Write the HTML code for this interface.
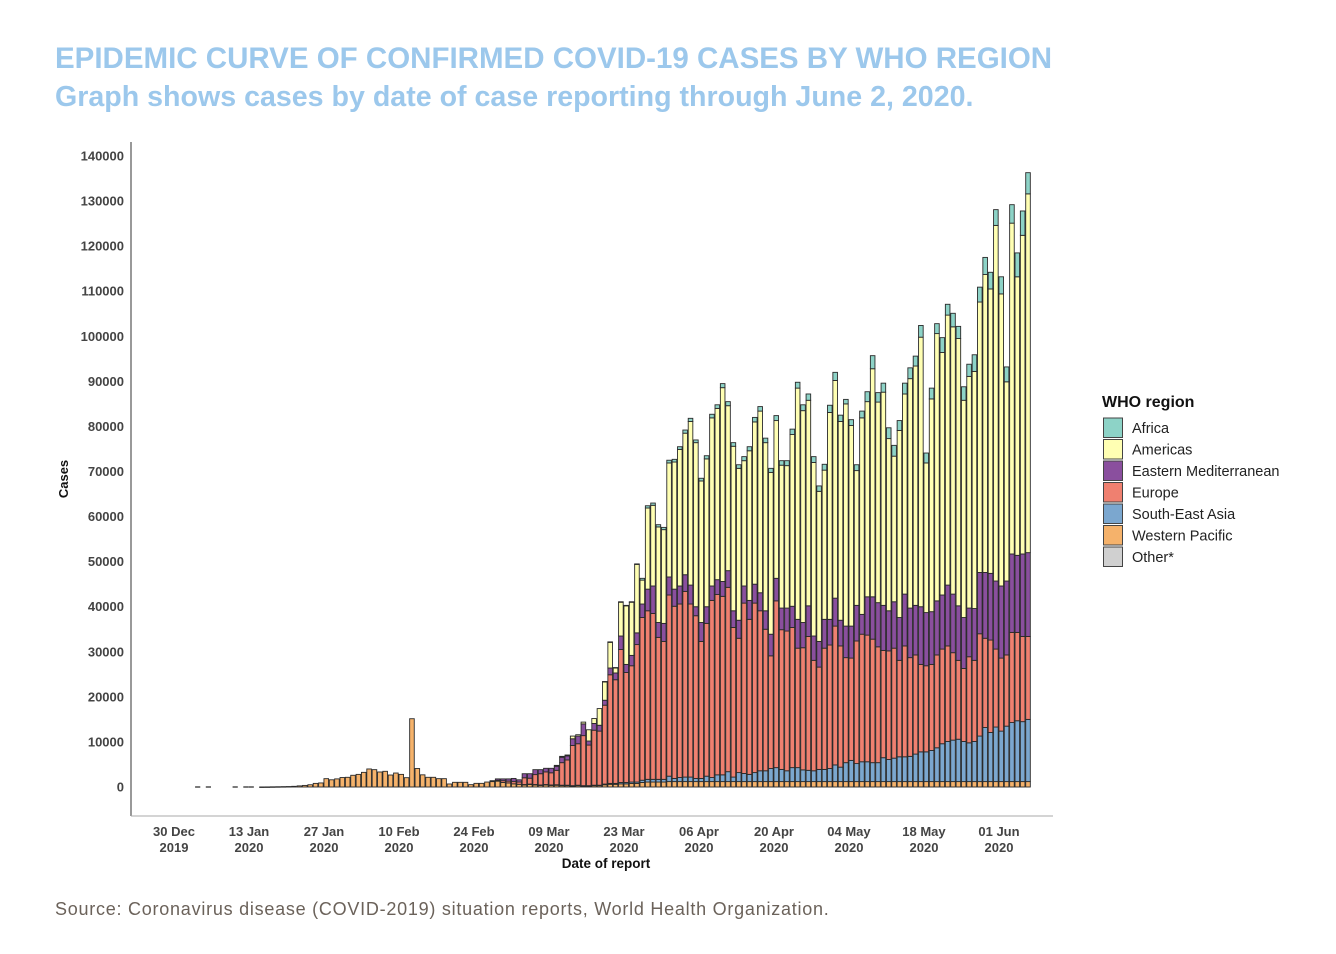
<!DOCTYPE html>
<html><head><meta charset="utf-8">
<style>
html,body{margin:0;padding:0;background:#fff;}
body{width:1336px;height:954px;overflow:hidden;font-family:"Liberation Sans",sans-serif;}
.t1{position:absolute;left:55px;top:42px;font-size:29.5px;font-weight:bold;color:#9cc8ec;white-space:nowrap;}
.t2{position:absolute;left:55px;top:81px;font-size:28.6px;font-weight:bold;color:#9cc8ec;white-space:nowrap;}
.src{position:absolute;left:55px;top:899px;font-size:18px;letter-spacing:0.75px;color:#6b625a;white-space:nowrap;}
svg{position:absolute;left:0;top:0;}
</style></head><body>
<div class="t1">EPIDEMIC CURVE OF CONFIRMED COVID-19 CASES BY WHO REGION</div>
<div class="t2">Graph shows cases by date of case reporting through June 2, 2020.</div>
<div class="src">Source: Coronavirus disease (COVID-2019) situation reports, World Health Organization.</div>
<svg id="chart" width="1336" height="954"></svg>
<script>
// values in thousands of cases, one entry per report day (bar)
const yTicks = [0,10000,20000,30000,40000,50000,60000,70000,80000,90000,100000,110000,120000,130000,140000];
const xTickLabels = [["30 Dec","2019"],["13 Jan","2020"],["27 Jan","2020"],["10 Feb","2020"],["24 Feb","2020"],["09 Mar","2020"],["23 Mar","2020"],["06 Apr","2020"],["20 Apr","2020"],["04 May","2020"],["18 May","2020"],["01 Jun","2020"]];
const seriesNames = ["Western Pacific","South-East Asia","Europe","Eastern Mediterranean","Americas","Africa"];
const legendNames = ["Africa","Americas","Eastern Mediterranean","Europe","South-East Asia","Western Pacific","Other*"];
const westernPacific = [0,null,0,null,null,null,null,0,null,0,0,null,
0.01,0.02,0.04,0.06,0.08,0.1,0.15,0.25,0.35,
0.5,0.8,0.9,1.85,1.6,1.8,2.1,2.15,2.6,2.8,3.25,4.0,3.85,3.33,3.48,2.66,3.1,2.8,2.07,15.15,4.1,2.7,2.15,
2.15,1.85,1.85,0.67,1.04,1.04,1.04,0.52,0.81,0.81,1.1,
1.2,1.3,1.0,0.9,0.7,0.6,
0.5,0.6,0.5,0.4,0.5,0.4,0.4,0.3,0.3,0.2,0.3,0.2,0.2,0.3,0.3,0.5,0.6,0.6,0.7,0.7,0.8,0.8,
1.0,1.1,1.1,1.1,1.1,
1.2,1.2,1.2,1.2,1.2,1.2,1.2,1.2,1.2,1.2,
1.2,1.2,1.2,1.2,1.2,1.2,1.2,1.2,1.2,1.2,
1.2,1.2,1.2,1.2,1.2,1.2,1.2,1.2,1.2,1.2,
1.2,1.2,1.2,1.2,1.2,1.2,1.2,1.2,1.2,1.2,
1.2,1.2,1.2,1.2,1.2,1.2,1.2,1.2,1.2,1.2,
1.2,1.2,1.2,1.2,1.2,1.2,1.2,1.2,1.2,1.2,
1.2,1.2,1.2,1.2,1.2,1.2,1.2,1.2];
const southEastAsia = [0,0,0,0,0,0,0,0,0,0,0,0,0,0,0,0,0,0,0,0,0,0,0,0,0,0,0,0,0,0,0,0,0,0,0,0,0,0,0,0,0,0,0,0,0,0,0,0,0,0,0,0,0,0,0,0,0,0,0,0,0,
0.05,0.05,0.05,0.05,0.05,0.05,0.1,0.1,0.1,0.1,0.1,0.1,0.1,0.1,0.1,0.15,0.2,0.2,0.3,0.3,0.3,0.3,
0.5,0.6,0.6,0.6,0.6,1.2,0.7,0.9,1.0,1.0,0.7,0.7,1.2,0.9,1.5,1.5,2.2,1.0,2.0,1.8,1.6,2.0,2.4,2.4,2.9,3.1,2.7,2.4,3.1,3.1,2.6,2.5,2.4,2.7,2.7,2.9,3.7,3.2,4.2,4.7,4.0,4.4,4.4,4.2,4.2,5.3,4.9,5.2,5.5,5.5,5.6,6.1,6.6,6.6,6.9,7.5,8.4,8.9,9.2,9.4,8.9,8.6,8.9,10.1,12.0,10.9,12.1,11.2,12.3,13.1,13.5,13.3,13.8];
const europe = [0,0,0,0,0,0,0,0,0,0,0,0,0,0,0,0,0,0,0,0,0,0,0,0,0,0,0,0,0,0,0,0,0,0,0,0,0,0,0,0,0,0,0,0,0,0,0,0,0,0,0,0,0,0,0,0,
0.2,0.4,0.4,0.5,0.5,
1.5,1.3,2.2,2.5,2.8,2.7,3.2,5.0,5.6,8.9,9.2,11.1,9.0,12.2,12.0,17.5,24.1,23.0,29.5,24.4,25.8,30.5,
36.1,37.4,36.8,31.5,30.6,40.2,38.2,38.5,41.2,38.4,36.1,30.4,33.9,39.3,40.0,39.6,40.9,33.2,29.8,37.8,34.4,37.6,35.5,31.4,25.0,37.0,31.0,31.0,31.1,26.5,27.1,29.7,24.5,22.7,26.9,27.4,30.8,26.9,23.3,22.7,27.2,28.3,28.1,27.4,25.7,23.8,24.1,24.4,21.4,24.6,21.9,22.0,19.4,19.1,19.1,20.6,21.0,21.2,19.4,17.5,16.2,19.1,18.0,22.7,19.8,20.5,17.3,16.2,15.8,20.0,19.6,18.9,18.4];
const easternMed = [0,0,0,0,0,0,0,0,0,0,0,0,0,0,0,0,0,0,0,0,0,0,0,0,0,0,0,0,0,0,0,0,0,0,0,0,0,0,0,0,0,0,0,0,0,0,0,0,0,0,0,0,0,0,0,
0.2,0.3,0.4,0.5,0.7,0.5,
0.9,1.0,1.1,0.9,0.8,1.0,0.9,1.2,0.9,1.5,1.7,2.6,0.9,1.5,1.3,1.1,1.5,1.5,3.0,1.8,2.3,2.6,
3.0,4.8,6.1,3.3,4.0,4.0,3.8,4.0,3.7,4.2,2.0,4.2,3.7,3.2,3.3,3.3,3.7,3.7,4.0,3.8,4.2,4.2,4.0,4.1,4.8,5.0,4.8,5.1,4.7,6.4,5.6,6.8,5.4,5.7,6.4,5.7,6.2,5.7,7.0,7.1,7.9,4.4,8.5,9.4,9.8,10.0,8.9,10.3,9.5,11.5,11.0,11.0,12.8,11.8,11.7,12.0,12.0,13.5,13.0,12.1,11.3,10.8,11.5,13.6,14.6,14.8,15.1,16.0,16.4,17.4,17.1,18.3,18.6];
const americas = [0,0,0,0,0,0,0,0,0,0,0,0,0,0,0,0,0,0,0,0,0,0,0,0,0,0,0,0,0,0,0,0,0,0,0,0,0,0,0,0,0,0,0,0,0,0,0,0,0,0,0,0,0,0,0,0,0,0,0,0,0,0,0,0,0,0,0,
0.2,0.2,0.2,0.6,0.3,0.4,2.5,1.1,3.7,4.1,5.7,1.1,7.5,13.0,11.8,15.2,
5.3,18.0,17.9,21.2,20.8,25.3,28.2,30.3,31.4,36.3,36.4,31.4,32.8,37.3,38.0,43.0,36.6,36.5,33.7,27.8,33.2,36.0,40.3,37.3,35.9,35.0,31.7,31.6,38.1,51.3,47.0,45.6,38.5,33.3,33.1,45.9,48.3,44.1,49.3,44.5,29.9,43.6,43.3,50.6,44.5,47.3,38.2,32.3,41.5,44.4,50.9,53.1,59.8,33.2,47.2,59.3,53.8,59.9,59.3,59.3,48.2,51.4,52.6,60.0,66.1,63.1,78.9,64.8,44.2,73.4,61.8,70.7,79.6];
const africa = [0,0,0,0,0,0,0,0,0,0,0,0,0,0,0,0,0,0,0,0,0,0,0,0,0,0,0,0,0,0,0,0,0,0,0,0,0,0,0,0,0,0,0,0,0,0,0,0,0,0,0,0,0,0,0,0,0,0,0,0,0,0,0,0,0,0,0,0,0,0,0,0,0,0,0,0,
0.05,0.1,0.1,0.1,0.1,0.1,0.1,
0.4,0.5,0.5,0.5,0.5,0.6,0.6,0.6,0.7,0.7,0.6,0.6,0.7,0.8,0.8,0.9,0.9,0.8,0.8,0.9,0.9,1.0,1.0,1.0,0.9,1.1,1.0,1.1,1.2,1.3,1.3,1.4,1.3,1.2,1.3,1.6,1.8,1.4,1.0,1.3,1.3,1.5,2.2,2.9,2.1,2.0,2.4,2.4,2.2,2.4,2.4,2.2,2.6,2.2,2.4,2.2,3.3,2.4,3.0,2.7,3.0,2.7,3.7,3.3,3.8,3.7,3.5,3.8,3.3,4.1,5.3,5.4,4.7];

const NS = "http://www.w3.org/2000/svg";
const svg = document.getElementById('chart');
const colors = ["#f5b26b","#7ba7cf","#ef8070","#8a4f9e","#ffffb3","#8dd3c7"];
const legendColors = ["#8dd3c7","#ffffb3","#8a4f9e","#ef8070","#7ba7cf","#f5b26b","#d0d0d0"];
const series = [westernPacific,southEastAsia,europe,easternMed,americas,africa];
const plotL = 131, plotR = 1053, plotB = 816;
const y0 = 787, yPerCase = (787-156)/140000;
function yScale(v){ return y0 - v*yPerCase; }
const dayPx = 5.357, day0X = 174;
function xDay(d){ return day0X + d*dayPx; }
const barOffsetDays = 4.42;
function xBar(i){ return xDay(i + barOffsetDays); }
const barW = 4.6;
function mk(tag, attrs, parent){ const e=document.createElementNS(NS,tag); for(const k in attrs) e.setAttribute(k,attrs[k]); (parent||svg).appendChild(e); return e; }

const ax = mk('line',{x1:plotL,y1:142,x2:plotL,y2:plotB,stroke:'#333','stroke-width':1});


const bx = mk('line',{x1:plotL,y1:plotB,x2:plotR,y2:plotB,stroke:'#aaa','stroke-width':1});



yTicks.forEach(v=>{
  const t = mk('text',{x:124,y:yScale(v)+4.5,'text-anchor':'end','font-size':13,'font-weight':'bold',fill:'#444','font-family':'Liberation Sans, sans-serif'});
  t.textContent = v;
  
  
});
xTickLabels.forEach((lab,j)=>{
  const x = xDay(j*14);
  const t = mk('text',{x:x,y:836,'text-anchor':'middle','font-size':13,'font-weight':'bold',fill:'#444','font-family':'Liberation Sans, sans-serif'});
  t.textContent = lab[0];
  
  
  const t2 = mk('text',{x:x,y:852,'text-anchor':'middle','font-size':13,'font-weight':'bold',fill:'#444','font-family':'Liberation Sans, sans-serif'});
  t2.textContent = lab[1];
  
  
});
const xt = mk('text',{x:606,y:868,'text-anchor':'middle','font-size':13.5,'font-weight':'bold',fill:'#111','font-family':'Liberation Sans, sans-serif'});
xt.textContent = 'Date of report';


const yt = mk('text',{x:0,y:0,'text-anchor':'middle','font-size':13,'font-weight':'bold',fill:'#111','font-family':'Liberation Sans, sans-serif',transform:'translate(68,479) rotate(-90)'});
yt.textContent = 'Cases';



const gBars = mk('g',{});


for(let i=0;i<westernPacific.length;i++){
  if(westernPacific[i]===null) continue;
  const cx = xBar(i);
  let cum = 0;
  let total = 0;
  series.forEach(s=>{ total += (s[i]||0); });
  if(total===0){
    const d = mk('line',{x1:cx-barW/2-0.3,x2:cx+barW/2+0.3,y1:y0,y2:y0,stroke:'#333','stroke-width':1.3},gBars);
    
    
    continue;
  }
  series.forEach((s,si)=>{
    const v = (s[i]||0)*1000;
    if(v<=0) return;
    const yTop = yScale(cum+v), yBot = yScale(cum);
    const r = mk('rect',{x:cx-barW/2,y:yTop,width:barW,height:Math.max(0.5,yBot-yTop),fill:colors[si],stroke:'#2a2a2a','stroke-width':0.9},gBars);
    
    
    cum += v;
  });
}

const lt = mk('text',{x:1102,y:407,'font-size':16,'font-weight':'bold',fill:'#111','font-family':'Liberation Sans, sans-serif'});
lt.textContent = 'WHO region';


legendNames.forEach((n,j)=>{
  const y = 418 + j*21.5;
  const r = mk('rect',{x:1103.5,y:y,width:19,height:19.5,fill:legendColors[j],stroke:'#444','stroke-width':1});
  
  
  const t = mk('text',{x:1132,y:y+15,'font-size':14.5,fill:'#222','font-family':'Liberation Sans, sans-serif'});
  t.textContent = n;
  
  
});
</script>
</body></html>
